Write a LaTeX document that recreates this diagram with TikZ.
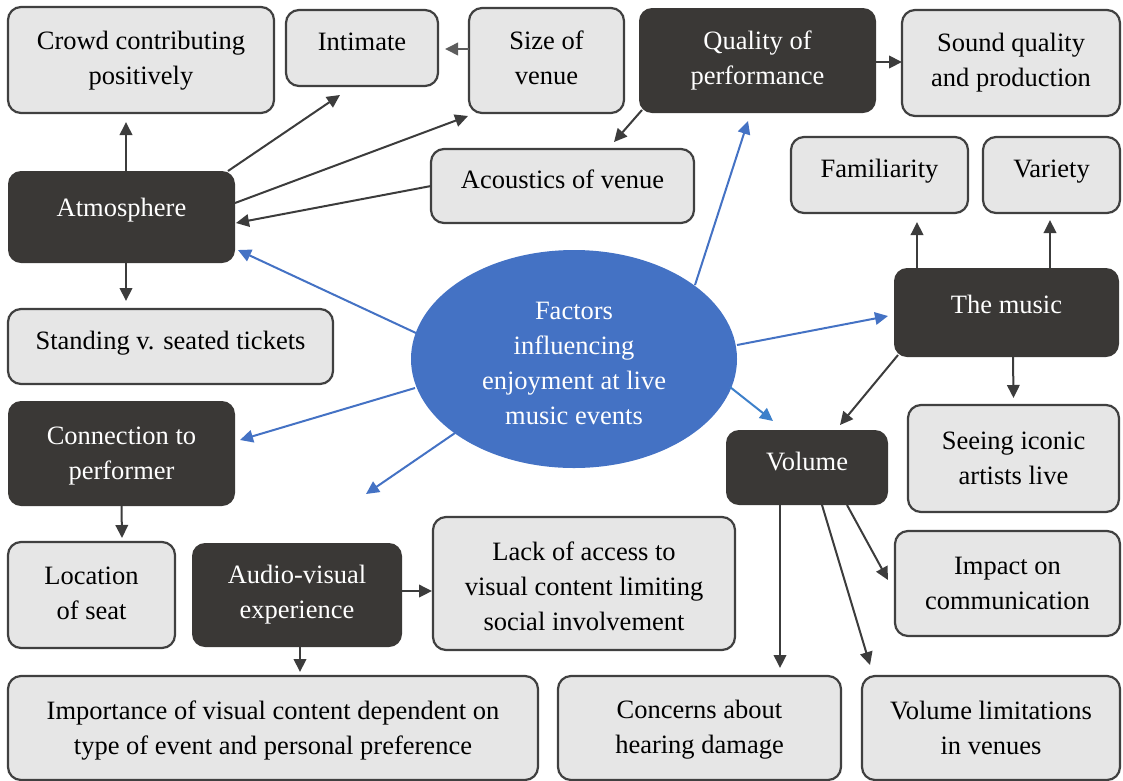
\documentclass[tikz,border=0pt]{standalone}
\usepackage{fontspec}
\setmainfont{Liberation Serif}
\usetikzlibrary{arrows.meta,shapes.geometric,calc}
\definecolor{darkbox}{RGB}{58,56,54}
\definecolor{lightbox}{RGB}{230,230,230}
\definecolor{boxline}{RGB}{64,64,64}
\definecolor{arrowgray}{RGB}{60,60,60}
\definecolor{bluefill}{RGB}{68,114,196}
\newcommand{\upstrut}[1]{\rule{0pt}{#1}}
\newcommand{\dnstrut}[1]{\rule[-#1]{0pt}{0pt}}
\begin{document}
\begin{tikzpicture}[x=1pt,y=-1pt,
  every node/.style={font=\fontsize{26.5}{35}\selectfont, outer sep=0pt, inner sep=0pt, align=center},
  lbox/.style={draw=boxline, line width=2.2pt, fill=lightbox, rounded corners=13pt, text=black},
  dbox/.style={fill=darkbox, rounded corners=13pt, text=white},
  topish/.style={text height=20pt, text depth=15pt},
  arr/.style={draw=arrowgray, line width=2pt, -{Triangle[length=13pt,width=12.5pt]}},
  barr/.style={draw=bluefill, line width=2pt, -{Triangle[length=13pt,width=12.5pt]}}
]
\useasboundingbox (0,0) rectangle (1123,780);

% boxes
\node[lbox, minimum width=266pt, minimum height=106pt] (crowd) at (141,60) {\upstrut{20pt}Crowd contributing\\positively};
\node[lbox, topish, minimum width=152pt, minimum height=76pt] (intim) at (362,48) {Intimate};
\node[lbox, minimum width=155pt, minimum height=105pt] (size) at (546.5,60.5) {Size of\\venue\dnstrut{6pt}};
\node[dbox, minimum width=237pt, minimum height=105pt] (qual) at (757.5,60.5) {Quality of\\performance};
\node[lbox, minimum width=218pt, minimum height=106pt] (sound) at (1011,63) {Sound quality\\and production};
\node[lbox, topish, minimum width=263pt, minimum height=74pt] (acou) at (562.5,186) {Acoustics of venue};
\node[lbox, topish, minimum width=177pt, minimum height=76pt] (fam) at (879.5,175) {Familiarity};
\node[lbox, topish, minimum width=137pt, minimum height=76pt] (var) at (1051.5,175) {Variety};
\node[dbox, topish, text depth=21pt, minimum width=227pt, minimum height=92pt] (atm) at (121.5,217) {Atmosphere};
\node[dbox, topish, text depth=19pt, minimum width=225pt, minimum height=89pt] (music) at (1006.5,312.5) {The music};
\node[lbox, topish, minimum width=325pt, minimum height=75pt] (stand) at (170.5,346.5) {Standing v. seated tickets};
\node[ellipse, fill=bluefill, text=white, minimum width=326pt, minimum height=218pt] (ell) at (574,359) {\upstrut{26pt}Factors\\influencing\\enjoyment at live\\music events};
\node[dbox, minimum width=227pt, minimum height=105pt] (conn) at (121.5,453.5) {\upstrut{22pt}Connection to\\performer};
\node[dbox, topish, minimum width=162pt, minimum height=75pt] (vol) at (807,467.5) {Volume};
\node[lbox, minimum width=211pt, minimum height=107pt] (seeing) at (1013.5,458.5) {Seeing iconic\\artists live};
\node[lbox, minimum width=167pt, minimum height=106pt] (loc) at (91.5,595) {Location\\of seat\dnstrut{4pt}};
\node[dbox, minimum width=210pt, minimum height=104pt] (av) at (297,595) {Audio-visual\\experience};
\node[lbox, minimum width=302pt, minimum height=133pt] (lack) at (584,583.5) {\upstrut{25pt}Lack of access to\\visual content limiting\\social involvement};
\node[lbox, minimum width=225pt, minimum height=105pt] (impact) at (1007.5,583.5) {Impact on\\communication};
\node[lbox, minimum width=530pt, minimum height=104pt] (imp) at (273,728) {\upstrut{23pt}Importance of visual content dependent on\\type of event and personal preference};
\node[lbox, minimum width=283pt, minimum height=104pt] (conc) at (699.5,728) {\upstrut{21pt}Concerns about\\hearing damage};
\node[lbox, minimum width=258pt, minimum height=104pt] (vlim) at (991,728) {Volume limitations\\in venues};
\coordinate (avfree) at (366,494);

% dark connectors
\draw[arr] ([xshift=4.5pt]atm.north) -- ([xshift=-15pt,yshift=-9pt]crowd.south);
\draw[arr] ([xshift=-7pt]atm.north east) -- ([xshift=-22pt,yshift=-9pt]intim.south);
\draw[arr] ([yshift=14pt]atm.east) -- ([xshift=-1pt,yshift=-3pt]size.south west);
\draw[arr] (acou.west) -- ([xshift=1pt,yshift=-6pt]atm.east);
\draw[arr] ([xshift=4.5pt]atm.south) -- ([xshift=-44.5pt,yshift=8pt]stand.north);
\draw[arr, draw=boxline!85] ([yshift=11.5pt]size.west) -- ([xshift=7pt,yshift=-1pt]intim.east);
\draw[arr] ([xshift=3pt,yshift=3pt]qual.south west) -- ([xshift=51.5pt,yshift=7pt]acou.north);
\draw[arr] ([yshift=-1.5pt]qual.east) -- ([yshift=1pt]sound.west);
\draw[arr] ([xshift=-89.5pt]music.north) -- ([xshift=37.5pt,yshift=-9pt]fam.south);
\draw[arr] ([xshift=43.5pt]music.north) -- ([xshift=-1.5pt,yshift=-7pt]var.south);
\draw[arr] ([xshift=6.5pt]music.south) -- ([yshift=7pt]seeing.north);
\draw[arr] ([xshift=4pt,yshift=2pt]music.south west) -- ([xshift=33pt,yshift=5pt]vol.north);
\draw[arr] (conn.south) -- ([xshift=30.5pt,yshift=4pt]loc.north);
\draw[arr] ([yshift=4pt]av.east) -- ([xshift=-1pt,yshift=-7.5pt]lack.west);
\draw[arr] ([xshift=3pt]av.south) -- ([xshift=27pt,yshift=4pt]imp.north);
\draw[arr] ([xshift=-27pt]vol.south) -- ([xshift=80.5pt,yshift=8pt]conc.north);
\draw[arr] ([xshift=15pt]vol.south) -- ([xshift=8pt,yshift=11pt]vlim.north west);
\draw[arr] ([xshift=40pt]vol.south) -- ([xshift=-7pt,yshift=3.5pt]impact.west);

% blue connectors
\draw[barr] ([xshift=5pt,yshift=26pt]ell.west) -- ([xshift=3pt,yshift=13pt]atm.south east);
\draw[barr] ([xshift=121pt,yshift=-35pt]ell.north) -- ([xshift=-9.5pt,yshift=-8pt]qual.south);
\draw[barr] ([yshift=14pt]ell.east) -- ([xshift=-6pt,yshift=-3.5pt]music.west);
\draw[barr] ([xshift=4pt,yshift=-29pt]ell.west) -- ([xshift=5pt,yshift=13.5pt]conn.east);
\draw[barr] ([xshift=-119pt,yshift=35pt]ell.south) -- (avfree);
\draw[barr, draw=bluefill!90!cyan] ([xshift=-7pt,yshift=-28pt]ell.east) -- ([xshift=47pt,yshift=9pt]vol.north west);
\end{tikzpicture}
\end{document}
